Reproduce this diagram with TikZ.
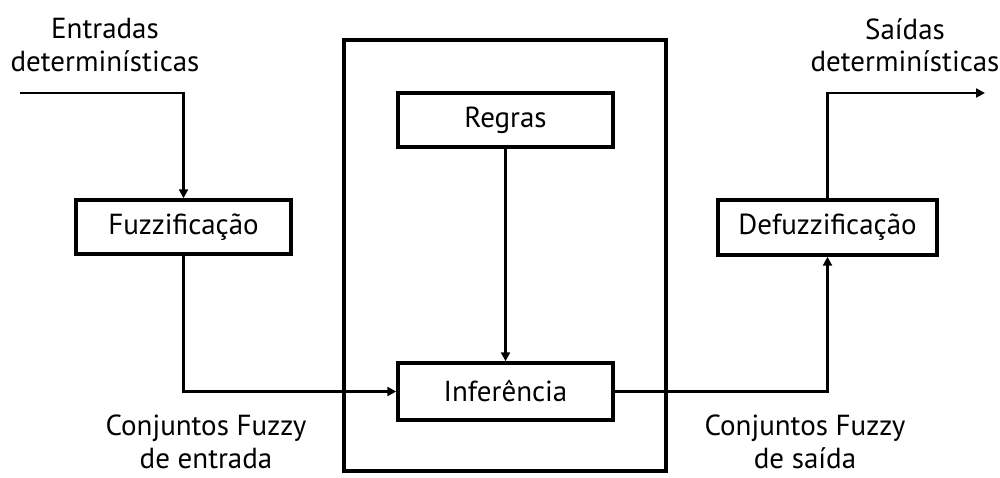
\documentclass[tikz,border=0pt]{standalone}
\usepackage{fontspec}
\setmainfont{PT Sans}
\usetikzlibrary{arrows.meta}
\begin{document}
\begin{tikzpicture}[x=0.02cm,y=-0.02cm,
  block/.style={draw,line width=2pt,inner sep=0pt,font=\fontsize{16.5}{18}\selectfont},
  frame/.style={draw,line width=1.8pt},
  link/.style={line width=1.4pt,-{Triangle[length=5pt,width=5pt]}},
  lbl/.style={align=center,font=\fontsize{16.5}{18.5}\selectfont,inner sep=0pt}]
\useasboundingbox (0,0) rectangle (1000,477);
% inference engine frame
\draw[frame] (344,40) rectangle (666,471);
% blocks
\node[block,minimum width=4.3cm,minimum height=1.08cm] (fuzz) at (183.5,227) {Fuzzificação};
\node[block,minimum width=4.3cm,minimum height=1.08cm] (regras) at (505.5,120) {Regras};
\node[block,minimum width=4.3cm,minimum height=1.14cm] (infer) at (505.5,391.5) {Inferência};
\node[block,minimum width=4.38cm,minimum height=1.1cm] (defuzz) at (827.5,227.5) {Defuzzificação};
% free ends of the input and output lines
\coordinate (in) at (20,93);
\coordinate (out) at (985,93);
% labels
\node[lbl] (lin) at (105,45) {Entradas\\determinísticas};
\node[lbl] (lout) at (905,45) {Saídas\\determinísticas};
\node[lbl] (cin) at (206,442) {Conjuntos Fuzzy\\de entrada};
\node[lbl] (cout) at (805,442) {Conjuntos Fuzzy\\de saída};
% connectors
\draw[link] (in) -| (fuzz.north);
\draw[link] (fuzz.south) |- (infer.west);
\draw[link] (regras.south) -- (infer.north);
\draw[link] (infer.east) -| (defuzz.south);
\draw[link] (defuzz.north) |- (out);
\end{tikzpicture}
\end{document}
